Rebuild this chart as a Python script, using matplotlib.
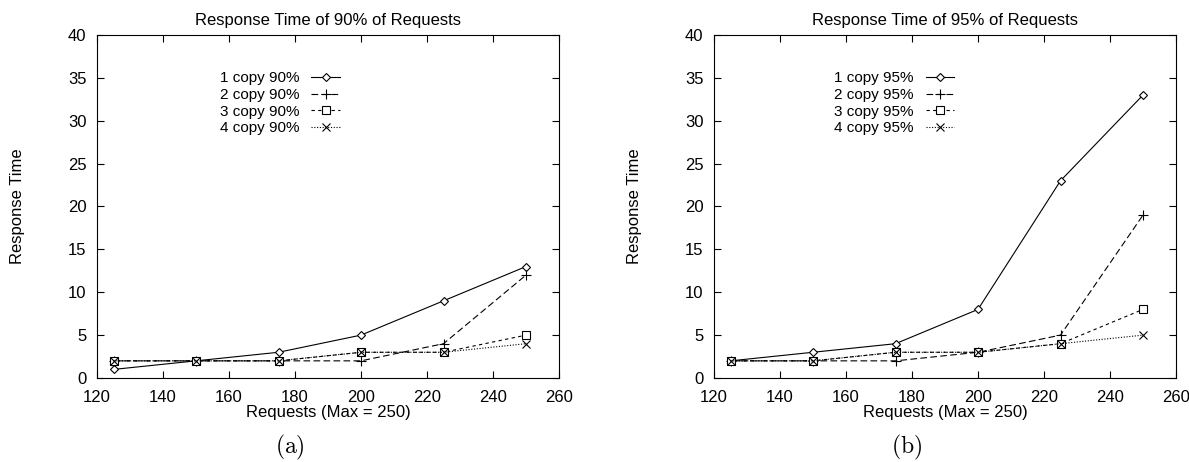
import matplotlib.pyplot as plt

plt.rcParams['font.family'] = ['Liberation Sans', 'DejaVu Sans']
plt.rcParams['mathtext.fontset'] = 'cm'

requests = [125, 150, 175, 200, 225, 250]

copy1_90 = [1, 2, 3, 5, 9, 13]
copy2_90 = [2, 2, 2, 2, 4, 12]
copy3_90 = [2, 2, 2, 3, 3, 5]
copy4_90 = [2, 2, 2, 3, 3, 4]

copy1_95 = [2, 3, 4, 8, 23, 33]
copy2_95 = [2, 2, 2, 3, 5, 19]
copy3_95 = [2, 2, 3, 3, 4, 8]
copy4_95 = [2, 2, 3, 3, 4, 5]

# gnuplot-like line types: solid, dashed, short dash, dotted
styles = [
    dict(ls='-', marker='D', ms=4.5, mfc='white'),
    dict(ls=(0, (6, 3)), marker='+', ms=7),
    dict(ls=(0, (3, 3)), marker='s', ms=5.5, mfc='white'),
    dict(ls=(0, (1, 1.5)), marker='x', ms=6),
]

W, H = 1189, 462
fig = plt.figure(figsize=(W / 100, H / 100), dpi=100)

ax_left = [97, 714]
leg_x = [0.249, 0.244]
for i, (pct, series, tag) in enumerate([
        ("90", [copy1_90, copy2_90, copy3_90, copy4_90], "a"),
        ("95", [copy1_95, copy2_95, copy3_95, copy4_95], "b")]):
    x0 = ax_left[i]
    ax = fig.add_axes([x0 / W, 1 - 378 / H, 462 / W, 343 / H])
    for k, vals in enumerate(series):
        ax.plot(requests, vals, color='black', lw=0.8, mew=0.8,
                label=f"{k + 1} copy {pct}%", **styles[k])
    ax.set_xlim(120, 260)
    ax.set_ylim(0, 40)
    ax.set_xticks(range(120, 261, 20))
    ax.set_yticks(range(0, 41, 5))
    ax.tick_params(direction='in', top=True, right=True, length=5,
                   labelsize=12)
    ax.tick_params(axis='x', pad=8.5)
    ax.tick_params(axis='y', pad=7.5)
    for s in ax.spines.values():
        s.set_linewidth(0.8)
    ax.set_title(f"Response Time of {pct}% of Requests", fontsize=12, pad=7)
    ax.set_xlabel("Requests (Max = 250)", fontsize=12, labelpad=0)
    ax.set_ylabel("Response Time", fontsize=12, labelpad=31)
    ax.legend(loc='upper left', bbox_to_anchor=(leg_x[i], 0.917), frameon=False,
              markerfirst=False, fontsize=11, handlelength=1.85,
              labelspacing=0.18, handletextpad=0.8, borderpad=0)
    fig.text((x0 + 193) / W, 1 - 447 / H, rf"$(\mathrm{{{tag}}})$",
             ha='center', va='center', fontsize=17)

fig.savefig("out.png", dpi=100)
